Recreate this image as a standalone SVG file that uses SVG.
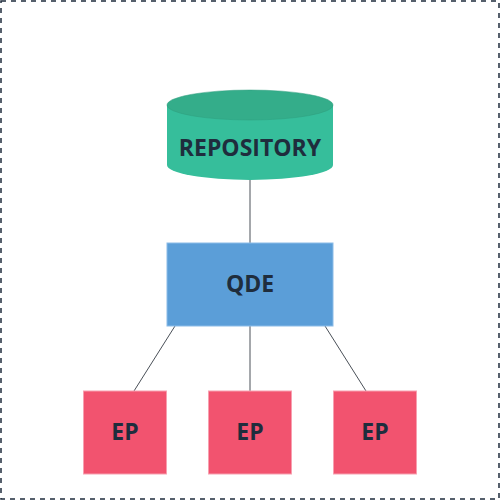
<svg xmlns="http://www.w3.org/2000/svg" width="500" height="500" viewBox="0 0 500 500">
<style>
.lbl{font-family:"Open Sans","Liberation Sans",sans-serif;font-weight:bold;font-size:23px;fill:#1f2d3d;text-anchor:middle}
.ep{fill:#f2536f;stroke:#f7a0b0;stroke-width:1}
.conn{stroke:#4a5058;stroke-width:1;fill:none}
</style>
<rect x="1" y="1" width="498" height="498" fill="#ffffff" stroke="#1f2d3d" stroke-width="1.5" stroke-dasharray="5,5"/>
<g id="connectors">
<line class="conn" x1="250" y1="180" x2="250" y2="243"/>
<line class="conn" x1="175" y1="326" x2="134" y2="391"/>
<line class="conn" x1="250" y1="326" x2="250" y2="391"/>
<line class="conn" x1="325" y1="326" x2="366" y2="391"/>
</g>
<g id="repository">
<path d="M167,105 L167,165 A83,15 0 0 0 333,165 L333,105 Z" fill="#36be9b"/>
<ellipse cx="250" cy="105" rx="83" ry="15" fill="#34ad8a" stroke="#2e9c7c" stroke-width="0.5"/>
<text class="lbl" x="250" y="156">REPOSITORY</text>
</g>
<g id="qde">
<rect x="167" y="243" width="166" height="83" fill="#5b9ed8" stroke="#8cbce8" stroke-width="1"/>
<text class="lbl" x="250" y="292">QDE</text>
</g>
<g id="ep1">
<rect class="ep" x="83.5" y="391" width="83" height="83"/>
<text class="lbl" x="125" y="440">EP</text>
</g>
<g id="ep2">
<rect class="ep" x="208.5" y="391" width="83" height="83"/>
<text class="lbl" x="250" y="440">EP</text>
</g>
<g id="ep3">
<rect class="ep" x="333.5" y="391" width="83" height="83"/>
<text class="lbl" x="375" y="440">EP</text>
</g>
</svg>
